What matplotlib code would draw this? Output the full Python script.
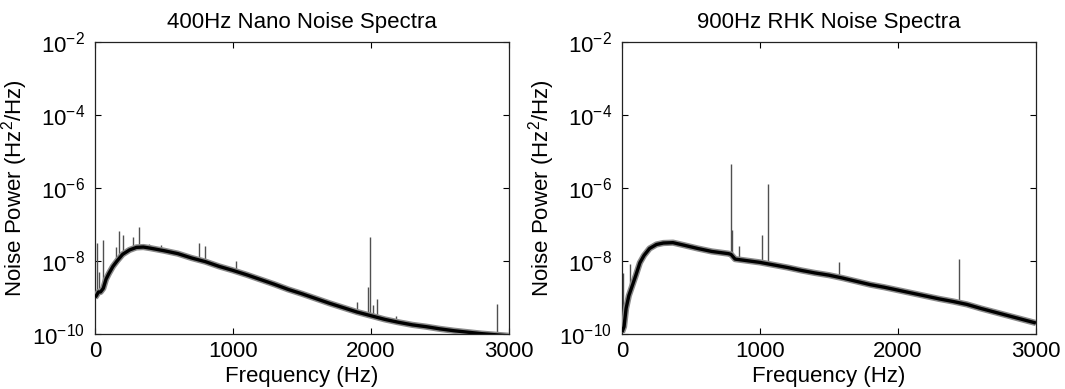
import numpy as np
import matplotlib
matplotlib.use("Agg")
import matplotlib.pyplot as plt
from matplotlib.ticker import NullLocator, FixedLocator

plt.rcParams['font.family'] = ['Liberation Sans', 'DejaVu Sans']
plt.rcParams['mathtext.default'] = 'regular'

# ---------------- data (log10 of noise power) ----------
nano_freq = [0, 10, 25, 40, 60, 80, 100, 130, 160, 200, 250, 300, 350, 400,
             500, 600, 700, 800, 900, 1000, 1100, 1200, 1300, 1400, 1500,
             1600, 1700, 1800, 1900, 2000, 2100, 2200, 2300, 2400, 2500,
             2600, 2700, 2800, 2900, 3000]
nano_log = [-9.0, -8.95, -8.85, -8.85, -8.75, -8.5, -8.35, -8.15, -8.0, -7.82,
            -7.70, -7.63, -7.62, -7.65, -7.72, -7.80, -7.92, -8.02, -8.15,
            -8.26, -8.38, -8.51, -8.64, -8.78, -8.90, -9.03, -9.16, -9.28,
            -9.40, -9.50, -9.60, -9.68, -9.75, -9.80, -9.86, -9.91, -9.95,
            -9.99, -10.02, -10.05]
nano_spike_freq = [17, 30, 56, 152, 171, 205, 278, 321, 394, 476, 756, 797,
                   1019, 1896, 1976, 1990, 2017, 2041, 2181, 2915]
nano_spike_base = [-8.95, -8.85, -8.8, -8.05, -7.95, -7.82, -7.66, -7.63,
                   -7.64, -7.70, -7.98, -8.02, -8.26, -9.39, -9.48, -9.49,
                   -9.52, -9.54, -9.66, -10.02]
nano_spike_top = [-7.50, -8.3, -7.43, -7.61, -7.17, -7.29, -7.34, -7.06,
                  -7.55, -7.57, -7.52, -7.6, -8.0, -9.12, -8.72, -7.35,
                  -9.2, -9.05, -9.5, -9.18]

rhk_freq = [0, 15, 30, 50, 80, 100, 130, 160, 200, 250, 300, 370, 450, 550,
            650, 770, 790, 820, 900, 1000, 1100, 1200, 1300, 1400, 1500,
            1600, 1700, 1800, 1900, 2000, 2100, 2200, 2300, 2400, 2500,
            2600, 2700, 2800, 2900, 3000]
rhk_log = [-9.95, -9.8, -9.3, -8.95, -8.62, -8.4, -8.05, -7.85, -7.66, -7.55,
           -7.51, -7.50, -7.57, -7.66, -7.74, -7.80, -7.82, -7.95, -7.99,
           -8.04, -8.11, -8.18, -8.26, -8.33, -8.39, -8.47, -8.56, -8.65,
           -8.72, -8.80, -8.88, -8.96, -9.04, -9.11, -9.19, -9.30, -9.40,
           -9.50, -9.60, -9.70]
rhk_spike_freq = [5, 55, 790, 795, 845, 1017, 1058, 1575, 2444]
rhk_spike_base = [-9.9, -8.9, -7.82, -7.85, -7.96, -8.05, -8.08, -8.45, -9.11]
rhk_spike_top = [-8.34, -8.09, -5.36, -7.15, -7.59, -7.30, -5.90, -8.02, -7.95]

titles = ['400Hz Nano Noise Spectra', '900Hz RHK Noise Spectra']
x_ticks = [0, 1000, 2000, 3000]
y_ticks = [1e-10, 1e-8, 1e-6, 1e-4, 1e-2]

# ---------------- figure --------------------------------------------------
fig = plt.figure(figsize=(10.65, 3.89), dpi=100)
ax_pos = [[0.0892, 0.1414, 0.3887, 0.7514],
          [0.5840, 0.1414, 0.3887, 0.7514]]

series = [(nano_freq, nano_log, nano_spike_freq, nano_spike_base, nano_spike_top),
          (rhk_freq, rhk_log, rhk_spike_freq, rhk_spike_base, rhk_spike_top)]

FS = 16
for pos, title, (f, lg, sf, sb, st) in zip(ax_pos, titles, series):
    ax = fig.add_axes(pos)
    ax.set_yscale('log')
    power = 10.0 ** np.array(lg)
    ax.vlines(sf, 10.0 ** np.array(sb), 10.0 ** np.array(st),
              color='#505050', linewidth=1.0, zorder=2)
    ax.plot(f, power, color='#8a8a8a', linewidth=4.5, solid_capstyle='butt',
            zorder=3)
    ax.plot(f, power, color='black', linewidth=2.4, solid_capstyle='butt',
            zorder=4)
    ax.set_xlim(0, 3000)
    ax.set_ylim(1e-10, 1e-2)
    ax.xaxis.set_major_locator(FixedLocator(x_ticks))
    ax.yaxis.set_major_locator(FixedLocator(y_ticks))
    ax.yaxis.set_minor_locator(NullLocator())
    ax.xaxis.set_minor_locator(NullLocator())
    ax.tick_params(direction='in', length=4, width=0.8, top=True, right=True,
                   labelsize=FS, colors='black')
    ax.tick_params(axis='x', pad=5)
    ax.tick_params(axis='y', pad=7)
    for sp in ax.spines.values():
        sp.set_linewidth(0.9)
        sp.set_color('#222222')
    ax.set_title(title, fontsize=FS, pad=10)
    ax.set_xlabel('Frequency (Hz)', fontsize=FS, labelpad=3)
    ax.set_ylabel('Noise Power (Hz$^{2}$/Hz)', fontsize=FS, labelpad=2)

fig.savefig('out.png', dpi=100)
